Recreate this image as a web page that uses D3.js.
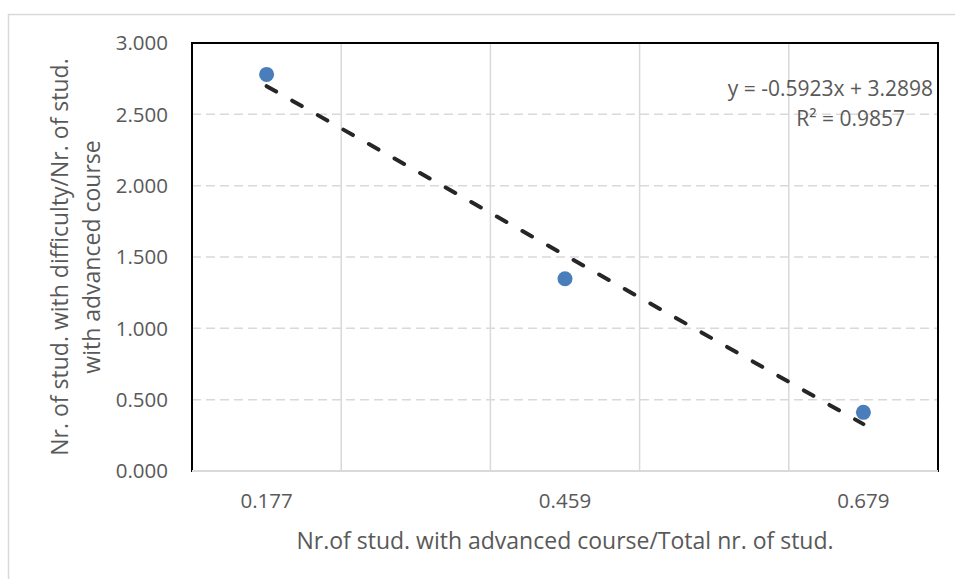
<!DOCTYPE html>
<html>
<head>
<meta charset="utf-8">
<script src="https://cdn.jsdelivr.net/npm/d3@7"></script>
<style>
  body { margin: 0; background: #fff; }
  svg text { font-family: "Open Sans", sans-serif; fill: #595959; }
</style>
</head>
<body>
<script>
// ---- data ----
const xLabels = ["0.177", "0.459", "0.679"];           // category labels on x
const yValues = [2.78, 1.348, 0.411];                 // ratio values
const yTicks = [0, 0.5, 1, 1.5, 2, 2.5, 3];
const trendText = ["y = -0.5923x + 3.2898", "R\u00b2 = 0.9857"];
const xTitle = "Nr.of stud. with advanced course/Total nr. of stud.";
const yTitle = ["Nr. of stud. with difficulty/Nr. of stud.", "with advanced course"];

const width = 955, height = 579;
const plot = { left: 192, right: 938, top: 43, bottom: 471 };

const svg = d3.select("body").append("svg")
    .attr("width", width)
    .attr("height", height);

// outer chart border
svg.append("rect")
    .attr("x", 8.5).attr("y", 14.5)
    .attr("width", width).attr("height", height)
    .attr("fill", "none")
    .attr("stroke", "#d9d9d9")
    .attr("stroke-width", 1.5);

const x = d3.scalePoint()
    .domain(xLabels)
    .range([plot.left, plot.right])
    .padding(0.25);

const y = d3.scaleLinear()
    .domain([0, 3])
    .range([plot.bottom, plot.top]);

// horizontal dashed gridlines
svg.append("g").selectAll("line")
    .data(yTicks.filter(d => d > 0 && d < 3))
    .join("line")
    .attr("x1", plot.left).attr("x2", plot.right)
    .attr("y1", d => y(d)).attr("y2", d => y(d))
    .attr("stroke", "#d9d9d9")
    .attr("stroke-width", 1.5)
    .attr("stroke-dasharray", "9,5");

// vertical gridlines every half category step
const half = x.step() / 2;
svg.append("g").selectAll("line")
    .data(d3.range(1, 5))
    .join("line")
    .attr("x1", k => plot.left + k * half).attr("x2", k => plot.left + k * half)
    .attr("y1", plot.top).attr("y2", plot.bottom)
    .attr("stroke", "#d9d9d9")
    .attr("stroke-width", 1.5);

// plot area border (black) and the grey category axis line
svg.append("rect")
    .attr("x", plot.left).attr("y", plot.top)
    .attr("width", plot.right - plot.left)
    .attr("height", plot.bottom - plot.top)
    .attr("fill", "none")
    .attr("stroke", "#000")
    .attr("stroke-width", 2);
svg.append("line")
    .attr("x1", plot.left).attr("x2", plot.right)
    .attr("y1", plot.bottom).attr("y2", plot.bottom)
    .attr("stroke", "#d9d9d9")
    .attr("stroke-width", 2);

// y tick labels
svg.append("g").selectAll("text")
    .data(yTicks)
    .join("text")
    .attr("x", 168)
    .attr("y", d => y(d))
    .attr("dy", "0.36em")
    .attr("text-anchor", "end")
    .style("font-size", "20.5px")
    .text(d => d3.format(".3f")(d));

// x tick labels
svg.append("g").selectAll("text")
    .data(xLabels)
    .join("text")
    .attr("x", d => x(d))
    .attr("y", 508)
    .attr("text-anchor", "middle")
    .style("font-size", "20.5px")
    .text(d => d);

// axis titles
svg.append("text")
    .attr("x", (plot.left + plot.right) / 2)
    .attr("y", 549)
    .attr("text-anchor", "middle")
    .style("font-size", "23px")
    .text(xTitle);

svg.append("g")
    .attr("transform", `translate(68,${(plot.top + plot.bottom) / 2}) rotate(-90)`)
    .selectAll("text")
    .data(yTitle)
    .join("text")
    .attr("x", 0)
    .attr("y", (d, i) => i * 32)
    .attr("text-anchor", "middle")
    .style("font-size", "23px")
    .text(d => d);

// linear trendline (least squares on category index)
const idx = yValues.map((d, i) => i + 1);
const mx = d3.mean(idx), my = d3.mean(yValues);
const slope = d3.sum(idx, (v, i) => (v - mx) * (yValues[i] - my)) / d3.sum(idx, v => (v - mx) ** 2);
const icpt = my - slope * mx;
svg.append("line")
    .attr("x1", x(xLabels[0]))
    .attr("y1", y(icpt + slope * idx[0]))
    .attr("x2", x(xLabels[xLabels.length - 1]))
    .attr("y2", y(icpt + slope * idx[idx.length - 1]))
    .attr("stroke", "#262626")
    .attr("stroke-width", 4)
    .attr("stroke-linecap", "round")
    .attr("stroke-dasharray", "11,18.4");

// markers
svg.append("g").selectAll("circle")
    .data(yValues)
    .join("circle")
    .attr("cx", (d, i) => x(xLabels[i]))
    .attr("cy", d => y(d))
    .attr("r", 7.5)
    .attr("fill", "#4a7ebb");

// trendline label
svg.append("text")
    .attr("x", 933).attr("y", 96)
    .attr("text-anchor", "end")
    .style("font-size", "21px")
    .text(trendText[0]);
svg.append("text")
    .attr("x", 905).attr("y", 126)
    .attr("text-anchor", "end")
    .style("font-size", "21px")
    .text(trendText[1]);
</script>
</body>
</html>
